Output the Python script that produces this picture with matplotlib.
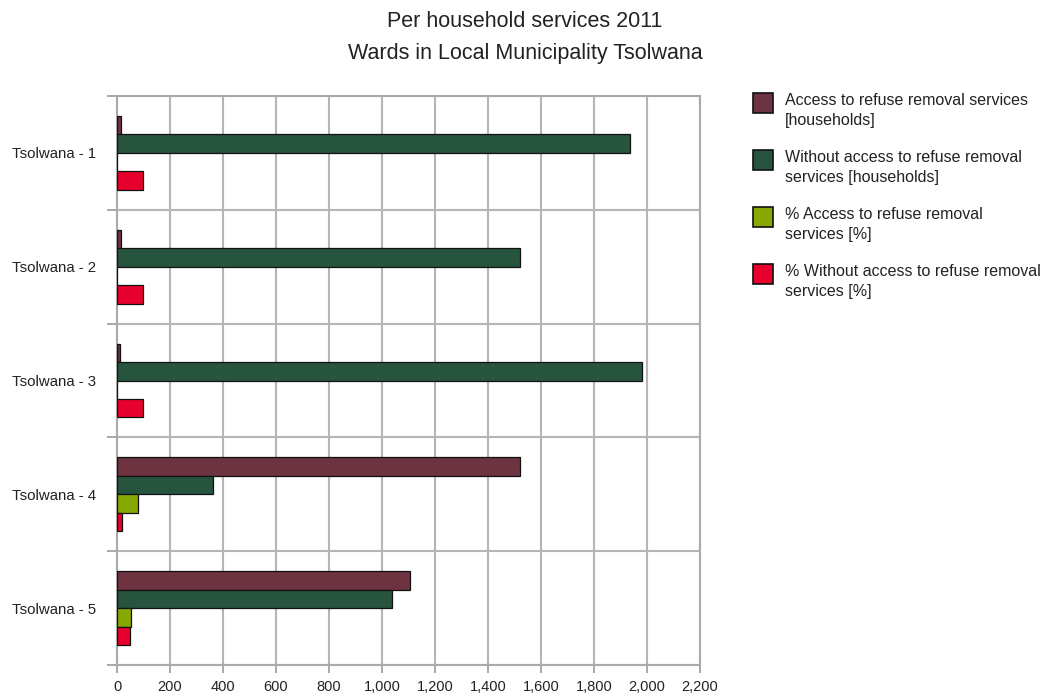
import numpy as np
import matplotlib
matplotlib.use('Agg')
import matplotlib.pyplot as plt
from matplotlib.patches import Rectangle
from matplotlib.ticker import FuncFormatter, MultipleLocator

plt.rcParams['font.family'] = ['Liberation Sans', 'DejaVu Sans']

wards = ['Tsolwana - 1', 'Tsolwana - 2', 'Tsolwana - 3', 'Tsolwana - 4', 'Tsolwana - 5']
access_hh = [14, 14, 10, 1521, 1107]
without_hh = [1937, 1520, 1982, 364, 1037]
access_pct = [0.7, 0.9, 0.5, 80.7, 51.6]
without_pct = [99.3, 99.1, 99.5, 19.3, 48.4]

labels = ['Access to refuse removal services\n[households]',
          'Without access to refuse removal\nservices [households]',
          '% Access to refuse removal\nservices [%]',
          '% Without access to refuse removal\nservices [%]']
colors = ['#6e3341', '#27543f', '#86a800', '#e8002d']

W, H = 1047, 693
fig = plt.figure(figsize=(W / 100, H / 100), dpi=100)
ax = fig.add_axes([117 / W, 1 - 665 / H, 583 / W, 569 / H])

series = [access_hh, without_hh, access_pct, without_pct]
h = 0.162
y = np.arange(len(wards))
for j, (vals, col) in enumerate(zip(series, colors)):
    ax.barh(y + (j - 1.5) * h, vals, height=h, color=col, edgecolor='#111111',
            linewidth=0.9, zorder=3)

ax.set_xlim(0, 2200)
ax.set_ylim(len(wards) - 0.5, -0.5)
ax.xaxis.set_major_locator(MultipleLocator(200))
ax.xaxis.set_major_formatter(FuncFormatter(lambda v, p: f'{int(v):,}'))
ax.set_yticks(y)
ax.set_yticklabels(wards)
ax.set_yticks(np.arange(len(wards) + 1) - 0.5, minor=True)
ax.tick_params(axis='y', which='major', length=0, pad=15, labelsize=10.8, labelcolor='#222222')
ax.tick_params(axis='y', which='minor', length=7, color='#999999', width=1.2)
ax.tick_params(axis='x', which='major', length=6, color='#999999', width=1.2,
               labelsize=10.5, pad=5, labelcolor='#222222')

ax.grid(True, axis='x', color='#b5b5b5', linewidth=1.5, zorder=0)
ax.grid(True, axis='y', which='minor', color='#b5b5b5', linewidth=1.5, zorder=0)
for s in ax.spines.values():
    s.set_color('#aaaaaa')
    s.set_linewidth(1.5)

fig.text(525 / W, 1 - 11 / H, 'Per household services 2011\nWards in Local Municipality Tsolwana',
         ha='center', va='top', fontsize=15.5, linespacing=1.7, color='#222222')

# legend drawn by hand so the box lines up with the first text line
for k, (lab, col) in enumerate(zip(labels, colors)):
    cy = 103 + 57 * k
    fig.add_artist(Rectangle((753 / W, 1 - (cy + 10) / H), 20 / W, 20 / H,
                             transform=fig.transFigure, facecolor=col,
                             edgecolor='#111111', linewidth=1.2))
    fig.text(785 / W, 1 - (cy - 10) / H, lab, ha='left', va='top',
             fontsize=11.5, linespacing=1.45, color='#222222')

fig.savefig('out.png', dpi=100)
